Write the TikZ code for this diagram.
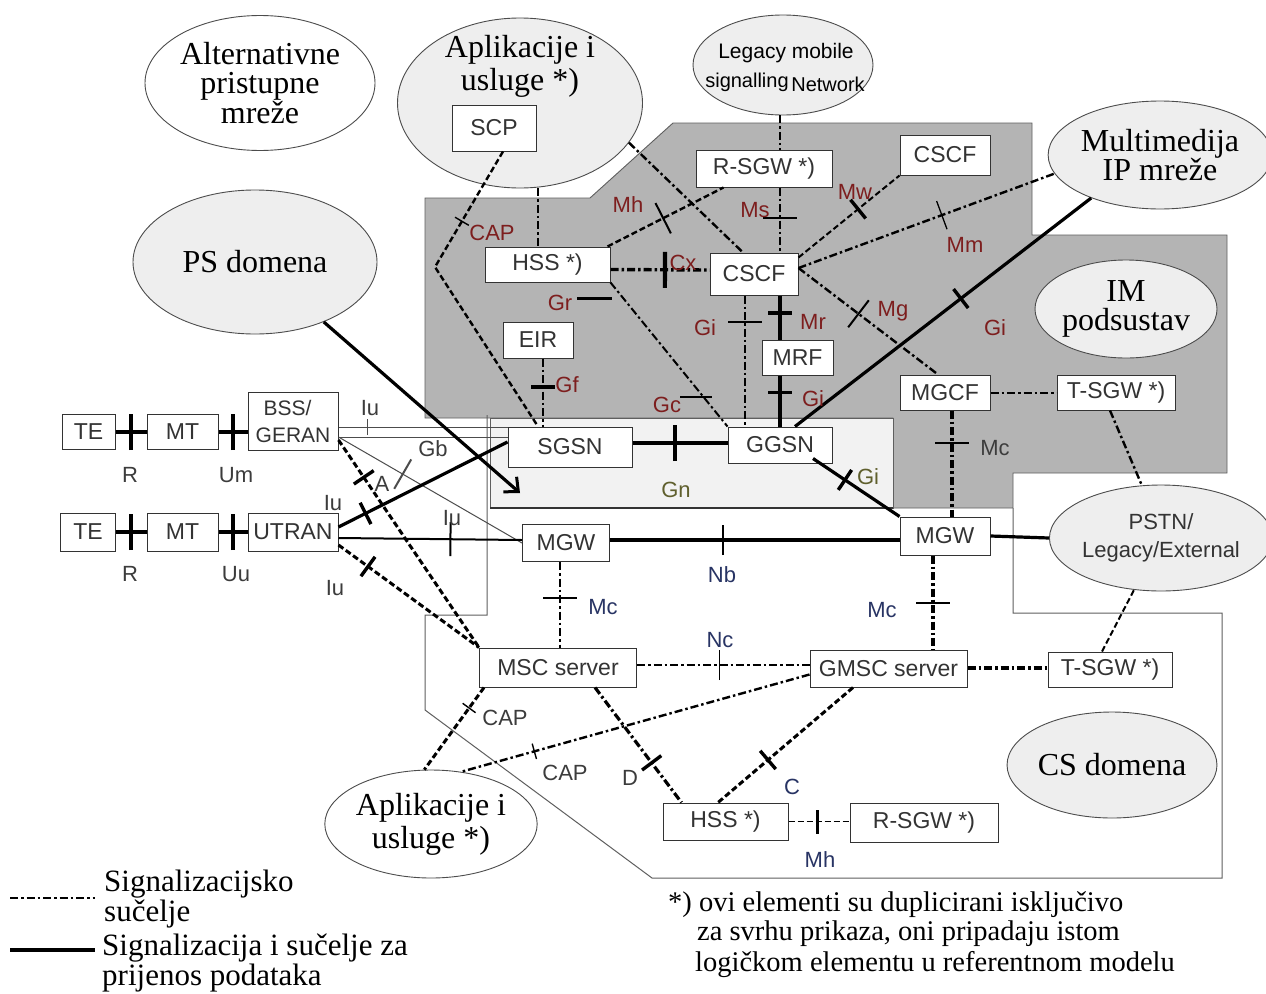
\documentclass[tikz,border=0pt]{standalone}
\usepackage{fontspec}
\setmainfont{Liberation Serif}
\setsansfont{Liberation Sans}
\usetikzlibrary{calc,arrows.meta,decorations.markings,shapes.geometric}

\definecolor{imgray}{RGB}{180,180,180}
\definecolor{pslight}{RGB}{242,242,242}
\definecolor{ellfill}{RGB}{238,238,238}
\definecolor{ired}{RGB}{125,30,30}
\definecolor{inavy}{RGB}{40,52,100}
\definecolor{iolive}{RGB}{95,95,45}
\definecolor{igray}{RGB}{60,60,60}
\definecolor{edgec}{RGB}{95,95,95}

\tikzset{
 box/.style={draw=black!80, fill=white, line width=1pt, inner sep=0pt, font=\sffamily\fontsize{23}{26}\selectfont, text=black!80},
 ell/.style={ellipse, draw=black!70, line width=0.9pt, fill=ellfill, inner sep=0pt, font=\fontsize{32}{29.5}\selectfont, align=center},
 sig/.style={dash pattern=on 8pt off 3pt on 2.5pt off 3pt, line width=2pt},
 sigb/.style={sig, line width=3.2pt},
 dsh/.style={dash pattern=on 6pt off 3pt, line width=2pt},
 dshb/.style={dsh, line width=3pt},
 dat/.style={line width=3.2pt},
 fine/.style={line width=1pt, draw=black!70},
 tk/.style={postaction={decorate,decoration={markings,mark=at position #1 with {\draw[solid,line width=1.4pt] (0,-8pt)--(0,8pt);}}}},
 tkt/.style={postaction={decorate,decoration={markings,mark=at position #1 with {\draw[solid,line width=1.3pt] (0,-15pt)--(0,15pt);}}}},
 tkl/.style={postaction={decorate,decoration={markings,mark=at position #1 with {\draw[solid,line width=2pt] (0,-17pt)--(0,17pt);}}}},
 tkb/.style={postaction={decorate,decoration={markings,mark=at position #1 with {\draw[solid,line width=3.4pt] (0,-12pt)--(0,12pt);}}}},
 tkR/.style={postaction={decorate,decoration={markings,mark=at position #1 with {\draw[solid,line width=4.2pt] (0,-18pt)--(0,18pt);}}}},
 il/.style={font=\sffamily\fontsize{22}{22}\selectfont, inner sep=0pt},
}

\begin{document}
\begin{tikzpicture}[x=1pt,y=-1pt]
\useasboundingbox (0,0) rectangle (1266,993);
\fill[white] (0,0) rectangle (1266,993);

% regions
\draw[edgec, fill=imgray, line width=0.9pt] (425,198) -- (590,198) -- (673,123) -- (1032,123) -- (1032,235) -- (1227,235) -- (1227,473) -- (1013,473) -- (1013,508) -- (893,508) -- (893,418) -- (425,418) -- cycle;
\draw[edgec, fill=pslight, line width=0.9pt] (490,418) rectangle (893,508);
\draw[black!80, line width=1.8pt] (490,508) -- (893,508);
\draw[edgec, line width=1pt] (487,415) -- (487,615) -- (425,615) -- (425,710) -- (652,878) -- (1222,878) -- (1222,613) -- (1013,613) -- (1013,508);

% ellipses
\node[ell, fill=white, minimum width=230pt, minimum height=135pt] (Alt) at (260,83) {Alternativne\\pristupne\\mreže};
\node[ell, minimum width=245pt, minimum height=170pt] (App1) at (520,103) {};
\node[font=\fontsize{32}{33}\selectfont, align=center, inner sep=0pt] (App1t) at (520,66) {Aplikacije i\\usluge *)};
\node[ell, minimum width=180pt, minimum height=100pt] (Leg) at (783,65) {};
\node[il, font=\sffamily\fontsize{21}{21}\selectfont] (legt1) at (786,53) {Legacy mobile};
\node[il, font=\sffamily\fontsize{20}{20}\selectfont] (legt2) at (747,82) {signalling};
\node[il, font=\sffamily\fontsize{20}{20}\selectfont] (legt3) at (828,84) {Network};
\node[ell, minimum width=244pt, minimum height=144pt] (PSd) at (255,262) {PS domena};
\node[ell, minimum width=206pt, minimum height=108pt] (MM) at (1160,155) {Multimedija\\IP mreže};
\node[ell, minimum width=182pt, minimum height=98pt] (IM) at (1126,309) {IM\\podsustav};
\node[ell, minimum width=208pt, minimum height=106pt, font=\sffamily\fontsize{22}{28}\selectfont, text=black!80] (PSTN) at (1161,538) {\raisebox{-4pt}{PSTN/}\\\raisebox{-4pt}{Legacy/External}};
\node[ell, minimum width=184pt, minimum height=106pt] (CSd) at (1112,765) {CS domena};
\node[ell, fill=white, minimum width=212pt, minimum height=108pt, font=\fontsize{32}{33}\selectfont] (App2) at (431,824) {Aplikacije i\\usluge *)};

% boxes
\node[box, minimum width=53pt, minimum height=35pt] (TE1) at (88.5,432) {TE};
\node[box, minimum width=71pt, minimum height=35pt] (MT1) at (182.5,432) {MT};
\node[box, minimum width=90pt, minimum height=58pt, align=left, font=\sffamily\fontsize{21}{27}\selectfont] (BSS) at (293,421) {\hspace{8pt}BSS/\\GERAN};
\node[box, minimum width=55pt, minimum height=38pt] (TE2) at (88,532) {TE};
\node[box, minimum width=71pt, minimum height=38pt] (MT2) at (182.5,532) {MT};
\node[box, minimum width=90pt, minimum height=38pt] (UTRAN) at (293,532) {UTRAN};
\node[box, minimum width=124pt, minimum height=40pt] (SGSN) at (570,447) {SGSN};
\node[box, minimum width=104pt, minimum height=36pt] (GGSN) at (780,445) {GGSN};
\node[box, minimum width=70pt, minimum height=36pt] (EIR) at (538,340) {EIR};
\node[box, minimum width=125pt, minimum height=35pt] (HSS1) at (547.5,264.5) {HSS *)};
\node[box, minimum width=88pt, minimum height=42pt] (CSCF1) at (754,274) {CSCF};
\node[box, minimum width=84pt, minimum height=46pt] (SCP) at (494,128) {SCP};
\node[box, minimum width=136pt, minimum height=37pt] (RSGW1) at (764,168.5) {R-SGW *)};
\node[box, minimum width=90pt, minimum height=40pt] (CSCF2) at (945,155) {CSCF};
\node[box, minimum width=71pt, minimum height=35pt] (MRF) at (797.5,357.5) {MRF};
\node[box, minimum width=90pt, minimum height=35pt] (MGCF) at (945,392.5) {MGCF};
\node[box, minimum width=118pt, minimum height=35pt] (TSGW1) at (1116,392.5) {T-SGW *)};
\node[box, minimum width=87pt, minimum height=37pt] (MGW1) at (566,543) {MGW};
\node[box, minimum width=90pt, minimum height=38pt] (MGW2) at (945,536) {MGW};
\node[box, minimum width=157pt, minimum height=39pt] (MSC) at (558,667.5) {MSC server};
\node[box, minimum width=157pt, minimum height=37pt] (GMSC) at (888.5,668.5) {GMSC server};
\node[box, minimum width=124pt, minimum height=35pt] (TSGW2) at (1110,669.5) {T-SGW *)};
\node[box, minimum width=125pt, minimum height=37pt] (HSS2) at (725.5,821.5) {HSS *)};
\node[box, minimum width=148pt, minimum height=39pt] (RSGW2) at (924,822.5) {R-SGW *)};

% access connectors
\draw[dat, tkR=0.5] (TE1.east) -- (MT1.west);
\draw[dat, tkR=0.5] (MT1.east) -- (MT1.east -| BSS.west);
\draw[dat, tkR=0.5] (TE2.east) -- (MT2.west);
\draw[dat, tkR=0.5] (MT2.east) -- (UTRAN.west);
\coordinate (bIu) at ($(BSS.east)+(0,6)$);
\coordinate (bGb) at ($(BSS.east)+(0,16)$);
\draw[fine, tk=0.17] (bIu) -- (bIu -| SGSN.west);
\draw[fine] (bGb) -- (bGb -| SGSN.west);
\draw[fine, tkl=0.35] (bGb) -- (MGW1.west);
\draw[dshb, tkb=0.18] ($(BSS.east)+(0,19)$) -- (MSC.north west);
\draw[dat, tkb=0.16] ($(UTRAN.east)+(0,-5)$) -- ($(SGSN.west)+(0,-5)$);
\draw[line width=2pt, tkl=0.61] ($(UTRAN.east)+(0,6)$) -- ($(MGW1.west)+(0,-3)$);
\draw[dshb, tkb=0.21] ($(UTRAN.east)+(0,13)$) -- (MSC.north west);
\coordinate (psarrow) at (520,493);
\draw[dat, -{Straight Barb[length=11pt,width=20pt,line width=3pt]}] (PSd) -- (psarrow);

% core / CS connectors
\draw[dat, tkR=0.45] ($(SGSN.east)+(0,-4)$) -- ($(GGSN.west)+(0,-2)$);
\draw[dat, tkb=0.37] ($(GGSN.south)+(33,-5)$) -- (MGW2.north west);
\draw[line width=4pt, tkt=0.39] ($(MGW1.east)+(0,-3)$) -- ($(MGW2.west)+(0,4)$);
\draw[dat] (MGW2.east) -- (PSTN.west);
\draw[sig, tkl=0.42] ($(MGW1.south)+(-6,0)$) -- ($(MSC.north)+(2,0)$);
\draw[sigb, tkl=0.5] ($(MGW2.south)+(-12,0)$) -- ($(GMSC.north)+(44.5,0)$);
\draw[sig, line width=2.4pt, tkt=0.48] ($(MSC.east)+(0,-2.5)$) -- ($(GMSC.west)+(0,-3.5)$);
\draw[sigb] ($(GMSC.east)+(0,-0.5)$) -- ($(TSGW2.west)+(0,-1.5)$);
\draw[dsh] ($(TSGW2.north)+(-8,0)$) -- (PSTN);
\draw[dshb, tk=0.25] ($(MSC.south west)+(5,0)$) -- (App2.97);
\draw[sig, line width=2.4pt, tk=0.79] ($(GMSC.west)+(0,6)$) -- (App2.60);
\draw[sigb, tkb=0.655] ($(MSC.south)+(37,0)$) -- ($(HSS2.north west)+(19,0)$);
\draw[dshb, tkb=0.63] ($(GMSC.south)+(-35.5,0)$) -- ($(HSS2.north)+(-7.5,0)$);
\draw[dsh, line width=1.2pt, tkb=0.48] (HSS2.east) -- (HSS2.east -| RSGW2.west);

% IMS connectors
\draw[sig] (MGCF.east) -- (TSGW1.west);
\draw[sigb, tkl=0.31] ($(MGCF.south)+(7,0)$) -- ($(MGW2.north)+(7,0)$);
\draw[sig, line width=2.4pt] ($(TSGW1.south)+(-6,0)$) -- (PSTN.110);
\draw[dat, tkb=0.44] (MM.212) -- ($(GGSN.north)+(15,0)$);
\draw[sig, line width=2.4pt, tkl=0.43] ($(CSCF1.east)+(0,-6)$) -- ($(MGCF.north)+(-7,0)$);
\draw[sig, line width=2.4pt, tkt=0.56] ($(CSCF1.east)+(0,-6)$) -- (MM.190);
\draw[dsh, tkb=0.59] ($(CSCF1.north east)+(0,5)$) -- (CSCF2.south west);
\draw[sig, line width=3.4pt, tkR=0.55] ($(HSS1.east)+(0,5)$) -- ($(CSCF1.west)+(0,-4)$);
\draw[dsh, line width=2.4pt, tkl=0.48] ($(HSS1.north east)+(-3,0)$) -- ($(RSGW1.south west)+(28,0)$);
\draw[sig, line width=2.4pt] (App1.340) -- ($(CSCF1.north)+(-11,0)$);
\draw[sig, line width=2.4pt, tkl=0.47] ($(RSGW1.south)+(16,0)$) -- ($(CSCF1.north)+(26,0)$);
\draw[sig, line width=2.4pt] ($(Leg.south)+(-3,0)$) -- ($(RSGW1.north)+(16,0)$);
\draw[sig] ($(App1.south)+(18,0)$) -- ($(HSS1.north)+(-9.5,0)$);
\coordinate (capbend) at (435,267);
\draw[dsh, line width=2.4pt, tk=0.25] ($(SCP.south)+(9,0)$) -- (capbend) -- ($(SGSN.north)+(-32,0)$);
\draw[sig] (HSS1.south east) -- (GGSN.north west);
\draw[sig, line width=1.5pt, tkl=0.2] ($(CSCF1.south)+(-9,0)$) -- ($(GGSN.north)+(-35,0)$);
\draw[dat, tkb=0.4] ($(CSCF1.south)+(26,0)$) -- ($(MRF.north)+(-17.5,0)$);
\draw[dat, tkb=0.33] ($(MRF.south)+(-17.5,0)$) -- (GGSN.north);
\draw[sig, tkb=0.42] ($(EIR.south)+(5,0)$) -- ($(SGSN.north)+(-27,0)$);
\draw[line width=3pt] (577,298) -- (612,298);
\draw[line width=1.8pt] (680,397) -- (712,397);

% labels access
\node[il, text=igray] (lR1) at (130,475) {R};
\node[il, text=igray] (lUm) at (236,475) {Um};
\node[il, text=igray] (lR2) at (130,574) {R};
\node[il, text=igray] (lUu) at (236,574) {Uu};
\node[il, text=igray] (lIu1) at (370,408) {Iu};
\node[il, text=igray] (lGb) at (433,449) {Gb};
\node[il, text=igray] (lA) at (382,484) {A};
\node[il, text=igray] (lIu2) at (333,503) {Iu};
\node[il, text=igray] (lIu3) at (452,518) {Iu};
\node[il, text=igray] (lIu4) at (335,588) {Iu};
% labels core / CS
\node[il, text=iolive] (lGn) at (676,490) {Gn};
\node[il, text=iolive] (lGi5) at (868,477) {Gi};
\node[il, text=inavy] (lNb) at (722,575) {Nb};
\node[il, text=inavy] (lMc1) at (603,607) {Mc};
\node[il, text=inavy] (lMc2) at (882,610) {Mc};
\node[il, text=inavy] (lNc) at (720,640) {Nc};
\node[il, text=igray] (lCAP2) at (505,718) {CAP};
\node[il, text=igray] (lCAP3) at (565,773) {CAP};
\node[il, text=igray] (lD) at (630,778) {D};
\node[il, text=inavy] (lC) at (792,787) {C};
\node[il, text=inavy] (lMh2) at (820,860) {Mh};
% labels IMS
\node[il, text=ired] (lCAP1) at (492,233) {CAP};
\node[il, text=ired] (lMh1) at (628,205) {Mh};
\node[il, text=ired] (lMs) at (755,210) {Ms};
\node[il, text=ired] (lMw) at (855,192) {Mw};
\node[il, text=ired] (lCx) at (683,263) {Cx};
\node[il, text=ired] (lGr) at (560,303) {Gr};
\node[il, text=ired] (lGi1) at (705,328) {Gi};
\node[il, text=ired] (lMr) at (813,322) {Mr};
\node[il, text=ired] (lMg) at (893,311) {Mg};
\node[il, text=ired] (lMm) at (965,245) {Mm};
\node[il, text=ired] (lGi2) at (995,328) {Gi};
\node[il, text=ired] (lGf) at (567,385) {Gf};
\node[il, text=ired] (lGc) at (667,405) {Gc};
\node[il, text=ired] (lGi3) at (813,399) {Gi};
\node[il, text=igray] (lMc3) at (995,448) {Mc};

% legend
\coordinate (lg1a) at (10,898);
\coordinate (lg1b) at (95,898);
\draw[sig, line width=2.4pt] (lg1a) -- (lg1b);
\coordinate (lg2a) at (10,950);
\coordinate (lg2b) at (95,950);
\draw[dat] (lg2a) -- (lg2b);
\node[anchor=west, align=left, inner sep=0pt, font=\fontsize{31}{28}\selectfont] (leg1) at (104,899) {Signalizacijsko\\sučelje};
\node[anchor=west, align=left, inner sep=0pt, font=\fontsize{31}{30}\selectfont] (leg2) at (102,963) {Signalizacija i sučelje za\\prijenos podataka};

% footnote
\node[anchor=west, inner sep=0pt, font=\fontsize{28.5}{28}\selectfont] (fn1) at (668,905) {*) ovi elementi su duplicirani isključivo};
\node[anchor=west, inner sep=0pt, font=\fontsize{28.5}{28}\selectfont] (fn2) at (697,934) {za svrhu prikaza, oni pripadaju istom};
\node[anchor=west, inner sep=0pt, font=\fontsize{28.5}{28}\selectfont] (fn3) at (695,965) {logičkom elementu u referentnom modelu};
\end{tikzpicture}
\end{document}
